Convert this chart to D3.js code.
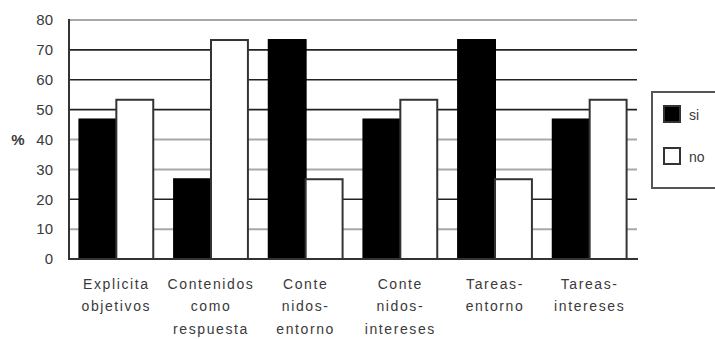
<!DOCTYPE html>
<html>
<head>
<meta charset="utf-8">
<script src="https://cdn.jsdelivr.net/npm/d3@7/dist/d3.min.js"></script>
<style>
  html, body { margin: 0; padding: 0; background: #fff; }
  svg { display: block; }
  text { font-family: "Liberation Sans", Arial, sans-serif; fill: #3a3a3a; }
</style>
</head>
<body>
<svg id="chart" width="715" height="339"></svg>
<script>
// Category labels (line breaks marked with "\n")
const categories = [
  "Explicita\nobjetivos",
  "Contenidos\ncomo\nrespuesta",
  "Conte\nnidos-\nentorno",
  "Conte\nnidos-\nintereses",
  "Tareas-\nentorno",
  "Tareas-\nintereses"
];
const seriesNames = ["si", "no"];
const siValues = [46.7, 26.7, 73.3, 46.7, 73.3, 46.7];
const noValues = [53.3, 73.3, 26.7, 53.3, 26.7, 53.3];
const yTicks = [0, 10, 20, 30, 40, 50, 60, 70, 80];
const yLabel = "%";

const svg = d3.select("#chart");
const plotLeft = 69, plotRight = 637, plotTop = 20, plotBottom = 259;

const x0 = d3.scaleBand().domain(categories).range([plotLeft, plotRight])
  .paddingInner(0.22).paddingOuter(0.11);
const x1 = d3.scaleBand().domain(seriesNames).range([0, x0.bandwidth()]);
const y = d3.scaleLinear().domain([0, 80]).range([plotBottom, plotTop]);

// horizontal grid lines, alternating weights as printed
const darkGrid = new Set([20, 50, 60, 70]);
svg.append("g").selectAll("line").data(yTicks.filter(t => t > 0)).join("line")
  .attr("x1", plotLeft).attr("x2", plotRight)
  .attr("y1", d => y(d)).attr("y2", d => y(d))
  .attr("stroke", d => darkGrid.has(d) ? "#222" : "#a8a8a8")
  .attr("stroke-width", d => darkGrid.has(d) ? 1.6 : 2);

// y axis tick labels
const yAxis = d3.axisLeft(y).tickValues(yTicks).tickSize(0).tickPadding(16);
const gy = svg.append("g").attr("transform", `translate(${plotLeft},0)`).call(yAxis);
gy.select(".domain").remove();
gy.selectAll("text").style("font-size", "15px").attr("fill", "#3a3a3a")
  .attr("font-family", "Liberation Sans, Arial, sans-serif");

svg.append("text").attr("x", 18).attr("y", y(40)).attr("dy", "0.35em")
  .attr("text-anchor", "middle").style("font-size", "15px").style("font-weight", "bold")
  .text(yLabel);

// bars
const rows = categories.map((c, i) => ({ cat: c, si: siValues[i], no: noValues[i] }));
const groups = svg.append("g").selectAll("g").data(rows).join("g")
  .attr("transform", d => `translate(${x0(d.cat)},0)`);
groups.selectAll("rect").data(d => seriesNames.map(k => ({ key: k, value: d[k] }))).join("rect")
  .attr("x", d => x1(d.key))
  .attr("y", d => y(d.value))
  .attr("width", x1.bandwidth())
  .attr("height", d => plotBottom - y(d.value))
  .attr("fill", d => d.key === "si" ? "#000" : "#fff")
  .attr("stroke", d => d.key === "si" ? "#000" : "#333")
  .attr("stroke-width", 2);

// axes frame
svg.append("line").attr("x1", plotLeft).attr("x2", plotLeft).attr("y1", plotTop - 1).attr("y2", plotBottom + 1)
  .attr("stroke", "#333").attr("stroke-width", 2);
svg.append("line").attr("x1", plotLeft).attr("x2", plotRight + 1).attr("y1", plotBottom).attr("y2", plotBottom)
  .attr("stroke", "#333").attr("stroke-width", 2);

// category labels
const xl = svg.append("g");
categories.forEach(c => {
  const cx = x0(c) + x0.bandwidth() / 2;
  c.split("\n").forEach((line, j) => {
    xl.append("text").attr("x", cx).attr("y", 284 + j * 22.5).attr("dy", "0.35em")
      .attr("text-anchor", "middle").style("font-size", "14px").style("letter-spacing", "1.6px")
      .text(line);
  });
});

// legend
const lg = svg.append("g");
lg.append("rect").attr("x", 652).attr("y", 92).attr("width", 90).attr("height", 96)
  .attr("fill", "#fff").attr("stroke", "#555").attr("stroke-width", 2);
seriesNames.forEach((k, i) => {
  const yy = 106 + i * 42;
  lg.append("rect").attr("x", 664).attr("y", yy).attr("width", 16).attr("height", 16)
    .attr("fill", k === "si" ? "#000" : "#fff").attr("stroke", "#333").attr("stroke-width", 2);
  lg.append("text").attr("x", 689).attr("y", yy + 9).attr("dy", "0.35em")
    .style("font-size", "14px").text(k);
});
</script>
</body>
</html>
